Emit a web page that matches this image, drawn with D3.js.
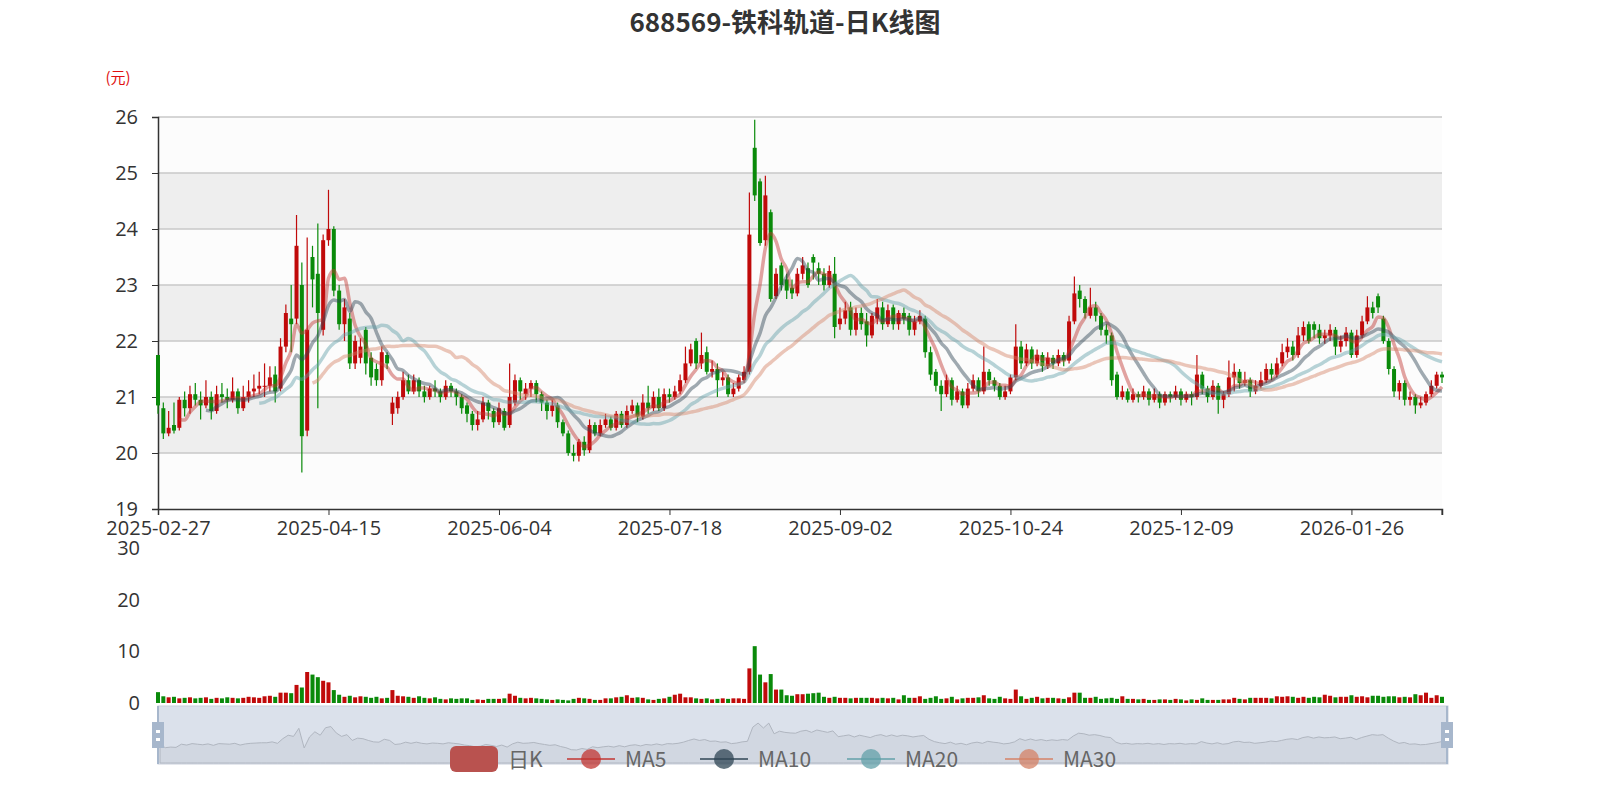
<!DOCTYPE html>
<html><head><meta charset="utf-8">
<script src="https://cdn.jsdelivr.net/npm/d3@7"></script>
<style>body{margin:0;background:#fff}svg{font-family:"Noto Sans CJK SC","Open Sans",sans-serif}</style>
</head><body><svg id="c" width="1600" height="800"></svg>
<script>
const title = "688569-铁科轨道-日K线图";
const holidays = ["2025-04-04","2025-05-01","2025-05-02","2025-05-05","2025-06-02","2025-10-01","2025-10-02","2025-10-03","2025-10-06","2025-10-07","2025-10-08","2026-01-01","2026-01-02"];
const tickIdx = [0,32,64,96,128,160,192,224];
// [open, close, low, high]
const candles = [
[21.75,20.85,20.7,21.75],[20.8,20.35,20.25,20.9],[20.35,20.45,20.3,20.75],[20.5,20.4,20.35,20.9],[20.45,20.95,20.4,21.0],
[20.95,20.8,20.65,21.1],[20.8,21.05,20.7,21.2],[21.05,20.95,20.85,21.25],[20.95,20.85,20.6,21.1],[20.85,21.0,20.8,21.3],
[21.0,20.75,20.6,21.1],[20.75,21.05,20.7,21.2],[21.05,21.0,20.9,21.25],[21.0,20.95,20.8,21.15],[20.95,21.1,20.9,21.35],
[21.1,20.8,20.7,21.15],[20.8,21.0,20.75,21.2],[21.0,21.1,20.9,21.3],[21.1,21.15,21.0,21.4],[21.15,21.2,21.05,21.45],
[21.2,21.2,21.0,21.6],[21.2,21.35,21.1,21.55],[21.4,21.1,20.9,21.55],[21.15,21.9,21.1,22.05],[21.9,22.5,21.8,22.65],
[22.4,22.3,21.8,23.0],[22.4,23.7,22.3,24.25],[23.0,20.3,19.65,23.4],[20.4,22.2,20.3,23.85],[23.5,23.1,22.6,23.7],
[23.2,22.5,20.8,24.1],[22.2,23.8,22.1,23.9],[23.8,24.0,23.7,24.7],[24.0,22.9,22.8,24.05],[22.9,22.3,22.2,23.0],
[22.3,22.6,22.0,22.75],[22.4,21.6,21.5,22.5],[21.6,22.0,21.5,22.1],[21.7,21.9,21.6,22.05],[22.2,21.6,21.4,22.25],
[21.7,21.35,21.2,21.8],[21.5,21.3,21.2,21.6],[21.3,21.8,21.2,21.9],[21.75,21.6,21.5,21.8],[20.7,20.9,20.5,21.0],
[20.8,21.0,20.7,21.1],[21.0,21.3,20.95,21.45],[21.3,21.1,21.05,21.4],[21.1,21.3,21.05,21.4],[21.3,21.1,21.0,21.35],
[21.1,21.0,20.9,21.2],[21.0,21.15,20.95,21.2],[21.15,21.1,21.0,21.3],[21.1,21.0,20.9,21.15],[21.0,21.2,20.95,21.3],
[21.2,21.1,21.0,21.25],[21.1,21.0,20.85,21.15],[21.0,20.8,20.7,21.05],[20.85,20.7,20.55,20.9],[20.7,20.5,20.4,20.75],
[20.5,20.6,20.4,20.75],[20.6,20.9,20.55,21.0],[20.9,20.75,20.6,20.95],[20.75,20.55,20.45,20.8],[20.55,20.8,20.5,20.9],
[20.75,20.45,20.4,20.8],[20.5,21.0,20.45,21.6],[20.9,21.3,20.85,21.4],[21.3,21.1,20.95,21.35],[21.05,21.15,20.95,21.25],
[21.15,21.25,21.0,21.3],[21.25,21.05,20.9,21.3],[21.05,20.9,20.75,21.1],[20.9,20.75,20.6,20.95],[20.75,20.85,20.65,20.95],
[20.85,20.55,20.45,20.9],[20.55,20.35,20.3,20.6],[20.35,20.0,19.95,20.4],[20.0,19.95,19.85,20.15],[19.95,20.2,19.85,20.25],
[20.2,20.05,19.95,20.3],[20.05,20.5,20.0,20.6],[20.5,20.35,20.3,20.55],[20.35,20.5,20.3,20.6],[20.5,20.6,20.45,20.7],
[20.6,20.45,20.4,20.65],[20.45,20.7,20.4,20.75],[20.7,20.5,20.45,20.75],[20.5,20.75,20.45,20.85],[20.75,20.85,20.7,20.95],
[20.85,20.65,20.55,20.9],[20.65,20.9,20.6,21.05],[20.9,20.8,20.7,21.2],[20.8,21.0,20.75,21.1],[21.0,20.8,20.75,21.15],
[20.8,21.05,20.75,21.15],[21.05,21.0,20.9,21.15],[21.0,21.1,20.95,21.2],[21.1,21.3,21.05,21.4],[21.3,21.6,21.25,21.9],
[21.6,21.85,21.55,21.95],[22.0,21.6,21.5,22.05],[21.6,21.75,21.5,22.15],[21.8,21.45,21.4,21.9],[21.45,21.5,21.35,21.65],
[21.5,21.3,21.0,21.6],[21.3,21.35,21.2,21.45],[21.35,21.05,21.0,21.4],[21.05,21.15,21.0,21.25],[21.15,21.35,21.1,21.4],
[21.3,21.45,21.25,21.55],[21.45,23.9,21.4,24.65],[25.45,24.6,24.5,25.95],[24.85,23.75,23.7,24.9],[23.8,24.6,23.7,24.95],
[24.3,22.75,22.7,24.35],[22.8,23.2,22.75,23.3],[23.35,23.0,22.9,23.4],[23.1,22.9,22.75,23.2],[22.95,22.85,22.75,23.1],
[22.85,23.2,22.8,23.3],[23.2,23.35,23.1,23.5],[23.3,23.0,22.95,23.4],[23.5,23.4,23.1,23.55],[23.3,23.2,23.0,23.4],
[23.2,23.0,22.9,23.3],[23.0,23.25,22.95,23.35],[23.2,22.25,22.05,23.5],[22.3,22.4,22.2,22.6],[22.4,22.55,22.3,22.7],
[22.6,22.2,22.1,22.7],[22.2,22.5,22.1,22.6],[22.5,22.3,22.2,22.6],[22.35,22.1,21.9,22.5],[22.1,22.45,22.05,22.5],
[22.4,22.6,22.3,22.75],[22.6,22.3,22.2,22.7],[22.3,22.55,22.25,22.65],[22.6,22.3,22.2,22.65],[22.3,22.5,22.2,22.55],
[22.5,22.4,22.3,22.6],[22.45,22.2,22.1,22.5],[22.2,22.35,22.1,22.45],[22.35,22.45,22.3,22.55],[22.4,21.8,21.7,22.45],
[21.8,21.4,21.3,21.9],[21.45,21.2,21.1,21.5],[21.2,21.05,20.75,21.3],[21.05,21.3,21.0,21.4],[21.3,20.95,20.85,21.35],
[20.95,21.1,20.9,21.2],[21.1,20.85,20.8,21.15],[20.85,21.15,20.8,21.25],[21.15,21.3,21.1,21.4],[21.3,21.1,21.0,21.35],
[21.1,21.45,21.05,21.9],[21.45,21.3,21.2,21.5],[21.3,21.2,21.1,21.35],[21.2,21.0,20.95,21.25],[21.0,21.1,20.95,21.2],
[21.1,21.35,21.05,21.4],[21.35,21.9,21.3,22.3],[21.9,21.6,21.5,22.0],[21.6,21.85,21.55,21.95],[21.85,21.6,21.5,21.9],
[21.6,21.75,21.55,21.85],[21.75,21.55,21.45,21.8],[21.55,21.7,21.5,21.8],[21.7,21.6,21.5,21.75],[21.6,21.75,21.55,21.85],
[21.75,21.65,21.55,21.8],[21.65,22.35,21.6,22.45],[22.35,22.85,22.3,23.15],[22.9,22.75,22.6,23.0],[22.75,22.5,22.4,22.8],
[22.45,22.6,22.4,22.95],[22.6,22.45,22.35,22.7],[22.45,22.2,22.1,22.5],[22.2,22.1,21.95,22.3],[22.1,21.3,21.2,22.15],
[21.4,21.0,20.95,21.45],[21.0,21.1,20.95,21.2],[21.1,20.95,20.9,21.15],[20.95,21.05,20.9,21.15],[21.05,21.0,20.9,21.1],
[21.0,21.1,20.95,21.2],[21.1,20.95,20.85,21.15],[20.95,21.05,20.9,21.15],[21.05,20.9,20.8,21.1],[20.9,21.05,20.85,21.1],
[21.05,21.0,20.9,21.1],[21.0,21.1,20.95,21.2],[21.1,20.95,20.85,21.15],[20.95,21.05,20.9,21.1],[21.05,21.0,20.85,21.1],
[21.0,21.4,20.95,21.75],[21.4,21.15,21.05,21.45],[21.15,21.0,20.9,21.2],[21.0,21.2,20.95,21.3],[21.2,20.95,20.7,21.25],
[20.95,21.05,20.8,21.1],[21.05,21.35,21.0,21.65],[21.35,21.45,21.1,21.6],[21.45,21.25,21.15,21.5],[21.25,21.3,21.2,21.45],
[21.3,21.1,21.0,21.35],[21.1,21.2,21.05,21.3],[21.2,21.3,21.15,21.45],[21.3,21.5,21.25,21.6],[21.5,21.4,21.3,21.6],
[21.4,21.6,21.35,21.7],[21.6,21.8,21.55,21.95],[21.8,21.9,21.7,22.05],[21.9,21.75,21.65,22.0],[21.75,22.1,21.7,22.25],
[22.1,22.25,22.0,22.35],[22.3,22.0,21.95,22.35],[22.3,22.2,22.05,22.35],[22.2,22.05,21.95,22.3],[22.05,22.1,21.95,22.2],
[22.1,22.2,22.0,22.3],[22.2,21.9,21.75,22.25],[21.9,22.0,21.8,22.1],[22.0,22.15,21.9,22.25],[22.15,21.75,21.7,22.2],
[21.75,22.1,21.7,22.2],[22.1,22.35,22.05,22.45],[22.35,22.6,22.3,22.8],[22.6,22.5,22.4,22.7],[22.8,22.6,22.5,22.85],
[22.4,22.0,21.95,22.45],[22.0,21.5,21.4,22.05],[21.5,21.1,21.0,21.55],[21.1,21.25,20.95,21.3],[21.25,20.95,20.85,21.3],
[20.95,21.0,20.85,21.1],[21.0,20.85,20.7,21.05],[20.85,20.9,20.8,21.0],[20.9,21.05,20.85,21.1],[21.05,21.2,21.0,21.3],
[21.2,21.4,21.15,21.45],[21.4,21.35,21.25,21.45]
];
const volumes = [2.1,1.3,1.1,1.2,0.9,1.0,1.1,0.9,1.0,1.1,
0.8,1.0,0.9,1.1,1.0,0.9,1.0,1.2,1.1,1.0,
1.3,1.4,1.2,2.0,2.0,1.9,3.5,3.0,6.0,5.5,
5.0,4.3,4.0,2.5,1.6,1.2,1.4,1.1,1.3,1.2,
1.0,1.2,0.9,1.0,2.5,1.4,1.3,1.2,1.0,1.3,
1.0,0.9,1.1,0.8,0.7,0.9,0.8,0.9,0.9,0.6,
0.7,0.6,0.8,0.8,0.8,0.9,1.8,1.4,1.0,0.9,
1.0,0.9,0.8,0.7,0.6,0.7,0.6,0.5,0.8,1.0,
0.9,0.8,0.6,0.6,0.9,0.9,1.1,1.2,1.5,1.0,
1.1,1.0,0.7,0.6,0.8,0.9,1.2,1.6,1.8,1.1,
1.1,0.9,0.8,0.9,0.7,0.8,0.9,0.8,0.9,0.9,
0.8,6.7,11.0,5.5,4.0,5.6,2.6,2.6,1.5,1.4,
1.7,1.7,1.8,1.9,2.0,1.2,1.0,1.2,1.0,1.0,
0.9,1.0,1.0,1.0,1.0,0.9,1.0,0.9,1.0,0.7,
1.5,1.0,1.0,1.3,0.8,1.0,1.3,0.8,0.9,1.2,
0.7,0.9,1.0,1.0,1.1,1.5,0.9,0.8,1.2,0.9,
0.8,2.6,1.3,0.8,1.0,1.2,0.9,1.0,1.0,0.9,
0.8,1.1,2.0,2.0,1.0,1.0,1.2,0.8,0.9,1.0,
0.8,1.3,0.8,0.8,0.7,0.8,0.6,0.6,0.7,0.7,
0.6,0.8,0.7,0.5,0.7,0.6,0.9,0.6,0.6,0.6,
0.7,0.7,1.0,0.8,0.7,1.0,1.0,1.0,1.0,0.9,
1.3,1.2,1.3,1.2,1.0,1.2,1.0,1.2,1.1,1.6,
1.4,1.1,1.2,1.2,1.5,1.2,1.3,1.1,1.4,1.4,
1.2,1.3,1.3,1.1,1.2,1.1,1.7,1.5,2.0,1.0,
1.5,1.2];
const maPeriods = [5,10,20,30];
const maColors = ["#c23531","#2f4554","#61a0a8","#d48265"];
const UP = "#c00a0a", DOWN = "#0a8a0a";

const dates = [];
{ let d = new Date(Date.UTC(2025,1,27));
  while (dates.length < candles.length) {
    const s = d.toISOString().slice(0,10), w = d.getUTCDay();
    if (w !== 0 && w !== 6 && !holidays.includes(s)) dates.push(s);
    d = new Date(d.getTime() + 86400000);
  } }

const svg = d3.select("#c");
const L=158,R=1442,T=117,B=509;
const x = d3.scaleLinear().domain([0,candles.length-1]).range([L,R]);
const y = d3.scaleLinear().domain([19,26]).range([B,T]);
const yv = d3.scaleLinear().domain([0,30]).range([703,548]);

svg.append("text").attr("x",785).attr("y",32).attr("text-anchor","middle").attr("font-size",26).attr("font-weight","bold").attr("fill","#333").text(title);
svg.append("text").attr("x",118).attr("y",83).attr("text-anchor","middle").attr("font-size",15).attr("fill","#e01010").text("(元)");

d3.range(19,26).forEach(v=>{
  svg.append("rect").attr("x",L).attr("y",y(v+1)).attr("width",R-L).attr("height",y(v)-y(v+1))
    .attr("fill",(v%2===0)?"#eeeeee":"#fcfcfc");
});
svg.append("g").selectAll("line").data(d3.range(20,27)).join("line")
  .attr("x1",L).attr("x2",R).attr("y1",d=>y(d)).attr("y2",d=>y(d)).attr("stroke","#c8c8c8").attr("stroke-width",1.5);

const ya = svg.append("g").attr("transform",`translate(${L},0)`).call(d3.axisLeft(y).ticks(7).tickSize(6).tickPadding(14));
ya.selectAll("text").attr("font-size",20).attr("fill","#333").attr("font-family","Open Sans");
ya.select(".domain").attr("stroke","#333").attr("stroke-width",1.5);
ya.selectAll(".tick line").attr("stroke","#333");
const xa = svg.append("g").attr("transform",`translate(0,${B})`).call(d3.axisBottom(x).tickValues(tickIdx).tickFormat(i=>dates[i]).tickSize(6).tickPadding(6));
xa.selectAll("text").attr("font-size",20).attr("fill","#333").attr("font-family","Open Sans");
xa.select(".domain").attr("stroke","#333").attr("stroke-width",1.5);
xa.selectAll(".tick line").attr("stroke","#333");
svg.append("line").attr("x1",R).attr("x2",R).attr("y1",B).attr("y2",B+6).attr("stroke","#333");

const cw = 4;
const cg = svg.append("g").selectAll("g").data(candles).join("g");
cg.append("line").attr("x1",(d,i)=>x(i)).attr("x2",(d,i)=>x(i)).attr("y1",d=>y(d[3])).attr("y2",d=>y(d[2]))
  .attr("stroke",d=>d[1]>=d[0]?UP:DOWN).attr("stroke-width",1.2);
cg.append("rect").attr("x",(d,i)=>x(i)-cw/2).attr("width",cw)
  .attr("y",d=>y(Math.max(d[0],d[1]))).attr("height",d=>Math.max(1,Math.abs(y(d[0])-y(d[1]))))
  .attr("fill",d=>d[1]>=d[0]?UP:DOWN);

const closes = candles.map(d=>d[1]);
maPeriods.forEach((p,k)=>{
  const pts = [];
  for (let i=p-1;i<closes.length;i++) pts.push([i, d3.mean(closes.slice(i-p+1,i+1))]);
  svg.append("path").datum(pts).attr("fill","none").attr("stroke",maColors[k]).attr("stroke-opacity",0.45).attr("stroke-width",3.5)
    .attr("d",d3.line().x(d=>x(d[0])).y(d=>y(d[1])).curve(d3.curveMonotoneX));
});

[0,10,20,30].forEach(v=>svg.append("text").attr("x",140).attr("y",yv(v)+7).attr("text-anchor","end").attr("font-size",20).attr("fill","#333").attr("font-family","Open Sans").text(v));
svg.append("g").selectAll("rect").data(volumes).join("rect")
  .attr("x",(d,i)=>x(i)-2).attr("width",4).attr("y",d=>yv(d)).attr("height",d=>yv(0)-yv(d))
  .attr("fill",(d,i)=>candles[i][1]>=candles[i][0]?UP:DOWN);

const sx = d3.scaleLinear().domain([0,candles.length-1]).range([160,1447]);
const sy = d3.scaleLinear().domain([19.6,26]).range([752,715]);
svg.append("rect").attr("x",158).attr("y",706).attr("width",1290).attr("height",58).attr("fill","#dbe1eb").attr("stroke","#c9d0dc");
svg.append("path").datum(closes).attr("fill","#cdd3dd").attr("fill-opacity",0.7).attr("stroke","#b0b6c0")
  .attr("d",d3.area().x((d,i)=>sx(i)).y0(763).y1(d=>sy(d)));
[158,1447].forEach(hx=>{
  svg.append("line").attr("x1",hx).attr("x2",hx).attr("y1",706).attr("y2",764).attr("stroke","#a7b7cc").attr("stroke-width",2);
  svg.append("rect").attr("x",hx-6).attr("y",722).attr("width",12).attr("height",26).attr("fill","#a7b7cc");
  svg.append("rect").attr("x",hx-2).attr("y",730).attr("width",4).attr("height",3).attr("fill","#fff");
  svg.append("rect").attr("x",hx-2).attr("y",738).attr("width",4).attr("height",3).attr("fill","#fff");
});

const legend = [{n:"日K",c:"#c23531",x:450},{n:"MA5",c:"#c23531",x:567},{n:"MA10",c:"#2f4554",x:700},{n:"MA20",c:"#61a0a8",x:847},{n:"MA30",c:"#d48265",x:1005}];
const ly = 759;
legend.forEach((l,k)=>{
  const g = svg.append("g");
  if (k===0) g.append("rect").attr("x",l.x).attr("y",ly-13).attr("width",48).attr("height",26).attr("rx",6).attr("fill","#b9524f");
  else {
    g.append("line").attr("x1",l.x).attr("x2",l.x+48).attr("y1",ly).attr("y2",ly).attr("stroke",l.c).attr("stroke-width",2).attr("stroke-opacity",0.75);
    g.append("circle").attr("cx",l.x+24).attr("cy",ly).attr("r",10).attr("fill",l.c).attr("fill-opacity",0.75);
  }
  g.append("text").attr("x",l.x+58).attr("y",ly+8).attr("font-size",21).attr("fill","#666").text(l.n);
});
</script></body></html>
